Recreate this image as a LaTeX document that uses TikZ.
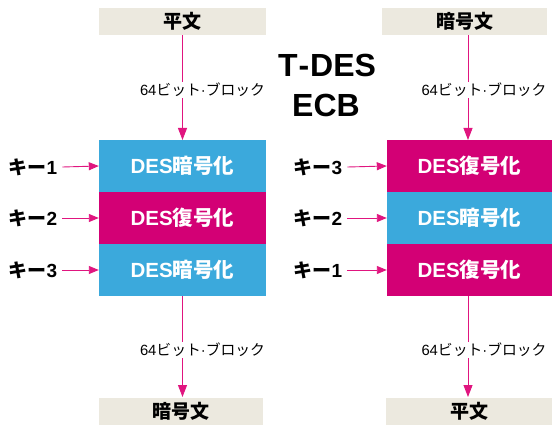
\documentclass[tikz,border=0pt]{standalone}
\usepackage{fontspec}
\setmainfont{Liberation Sans}
\newfontfamily\jp{Noto Sans CJK JP}
\usetikzlibrary{arrows.meta}
\definecolor{cblue}{HTML}{3BA9DC}
\definecolor{cpink}{HTML}{D30075}
\definecolor{cbeige}{HTML}{ECE9DF}
\definecolor{carrow}{HTML}{E0157F}
\newcommand{\blklabel}{64{\jp ビット}·{\jp ブロック}}
\begin{document}
\begin{tikzpicture}[x=1pt,y=-1pt,
  io/.style={fill=cbeige,draw=none,minimum height=27pt,inner sep=0pt,font=\fontsize{19}{19}\selectfont\bfseries},
  blk/.style={draw=none,minimum width=167pt,minimum height=52pt,inner sep=0pt,text=white,font=\fontsize{20.5}{20.5}\selectfont\bfseries},
  encb/.style={blk,fill=cblue},
  decb/.style={blk,fill=cpink},
  keyl/.style={inner sep=0pt,font=\fontsize{19}{19}\selectfont\bfseries},
  lbl/.style={fill=white,inner sep=1pt,font=\fontsize{14.8}{14.8}\selectfont},
  flow/.style={draw=carrow,line width=0.9pt,-{Triangle[length=12pt,width=9pt]}},
  keyarr/.style={draw=carrow,line width=0.9pt,-{Triangle[length=10pt,width=8pt]}},
  ttl/.style={inner sep=0pt,font=\fontsize{32}{32}\selectfont\bfseries}
]
\useasboundingbox (0,0) rectangle (552,425);

% title
\node[ttl] (t1) at (327,65) {T\kern1pt-\kern1pt DES};
\node[ttl] (t2) at (326,105) {ECB};

% left column
\node[io,minimum width=167pt] (lin) at (182.5,21.5) {\jp 平文};
\node[encb] (l1) at (182.5,166) {DES{\jp 暗号化}};
\node[decb] (l2) at (182.5,218) {DES{\jp 復号化}};
\node[encb] (l3) at (182.5,270) {DES{\jp 暗号化}};
\node[io,minimum width=164pt] (lout) at (180.5,411.5) {\jp 暗号文};
\coordinate (l1n) at (182.5,140);
\coordinate (l3s) at (182.5,296);
\coordinate (lon) at (182.5,397);
\draw[flow] (lin.south) -- (l1n);
\draw[flow] (l3s) -- (lon);
\node[lbl] (lla) at (202.5,90) {\blklabel};
\node[lbl] (llb) at (202.5,350) {\blklabel};

\node[keyl] (lk1) at (33,167) {{\jp キー}1};
\node[keyl] (lk2) at (33,218) {{\jp キー}2};
\node[keyl] (lk3) at (33,270) {{\jp キー}3};
\draw[keyarr] (lk1.east) ++(5pt,0) -- (l1.west);
\draw[keyarr] (lk2.east) ++(5pt,0) -- (l2.west);
\draw[keyarr] (lk3.east) ++(5pt,0) -- (l3.west);

% right column
\node[io,minimum width=165pt] (rin) at (464.5,21.5) {\jp 暗号文};
\node[decb,minimum width=165pt] (r1) at (469.5,166) {DES{\jp 復号化}};
\node[encb,minimum width=165pt] (r2) at (469.5,218) {DES{\jp 暗号化}};
\node[decb,minimum width=165pt] (r3) at (469.5,270) {DES{\jp 復号化}};
\node[io,minimum width=166pt] (rout) at (469,411.5) {\jp 平文};
\coordinate (r1n) at (468,140);
\coordinate (r3s) at (468,296);
\coordinate (ron) at (468,397);
\draw[flow] (rin.south -| r1n) -- (r1n);
\draw[flow] (r3s) -- (ron);
\node[lbl] (rla) at (484,90) {\blklabel};
\node[lbl] (rlb) at (484,350) {\blklabel};

\node[keyl] (rk1) at (318,167) {{\jp キー}3};
\node[keyl] (rk2) at (318,218) {{\jp キー}2};
\node[keyl] (rk3) at (318,270) {{\jp キー}1};
\draw[keyarr] (rk1.east) ++(5pt,0) -- (r1.west);
\draw[keyarr] (rk2.east) ++(5pt,0) -- (r2.west);
\draw[keyarr] (rk3.east) ++(5pt,0) -- (r3.west);
\end{tikzpicture}
\end{document}
